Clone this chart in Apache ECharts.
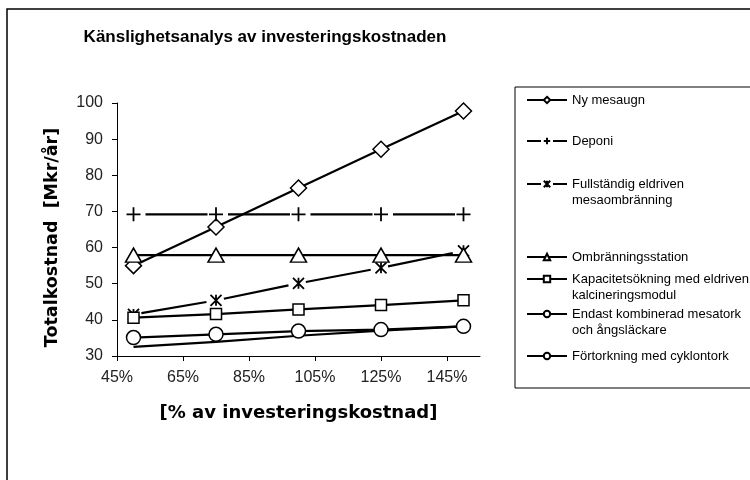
<!DOCTYPE html>
<html>
<head>
<meta charset="utf-8">
<script src="https://cdn.jsdelivr.net/npm/echarts@6/dist/echarts.min.js"></script>
<style>
  html, body { margin: 0; padding: 0; background: #fff; }
  #chart { width: 750px; height: 480px; }
</style>
</head>
<body>
<div id="chart"></div>
<script>
// x values in % of investment cost; axis starts at 45 %
const X_START = 45
const xPercents = [50, 75, 100, 125, 150]

const seriesNames = [
  'Ny mesaugn',
  'Deponi',
  'Fullständig eldriven mesaombränning',
  'Ombränningsstation',
  'Kapacitetsökning med eldriven kalcineringsmodul',
  'Endast kombinerad mesatork och ångsläckare',
  'Förtorkning med cyklontork'
]
const legendLabels = [
  'Ny mesaugn',
  'Deponi',
  'Fullständig eldriven\nmesaombränning',
  'Ombränningsstation',
  'Kapacitetsökning med eldriven\nkalcineringsmodul',
  'Endast kombinerad mesatork\noch ångsläckare',
  'Förtorkning med cyklontork'
]

// Totalkostnad [Mkr/år]
const nyMesaugn = [55.0, 65.7, 76.5, 87.2, 97.8]
const deponi = [69.2, 69.2, 69.2, 69.2, 69.2]
const fullstandig = [41.5, 45.4, 50.1, 54.4, 59.1]
const ombranning = [57.9, 57.9, 57.9, 57.9, 57.9]
const kapacitet = [40.6, 41.6, 42.9, 44.1, 45.4]
const endast = [32.5, 33.9, 35.6, 37.0, 38.2]
const fortorkning = [35.1, 36.0, 36.9, 37.3, 38.2]
const values = [nyMesaugn, deponi, fullstandig, ombranning, kapacitet, endast, fortorkning]

// marker / line look per series
const PLUS = 'path://M0,7H14M7,0V14'
const STAR = 'path://M0,0L12,12M12,0L0,12M6,0V12'
const styles = [
  { symbol: 'diamond', size: [16, 16] },
  { symbol: PLUS, size: 14, dash: [62, 20.5], dashOffset: 70.5, legendDash: [14, 12, 16] },
  { symbol: STAR, size: 11, dash: [66, 17.7], dashOffset: 75.7, legendDash: [14, 12, 16] },
  { symbol: 'triangle', size: [16, 14] },
  { symbol: 'rect', size: 11 },
  { symbol: 'none', size: 0 },
  { symbol: 'circle', size: 14 }
]
// vertical centre of each legend entry (first text line)
const legendY = [100, 141, 184, 257, 279, 314, 356]

const FONT = 'Liberation Sans, Arial, sans-serif'

const chart = echarts.init(document.getElementById('chart'), null, { renderer: 'canvas' })

const series = seriesNames.map((name, i) => {
  const st = styles[i]
  return {
    name: name,
    type: 'line',
    data: xPercents.map((x, j) => [x - X_START, values[i][j]]),
    symbol: st.symbol,
    symbolSize: st.size,
    showAllSymbol: true,
    lineStyle: {
      color: '#000',
      width: 2.2,
      type: st.dash || 'solid',
      dashOffset: st.dashOffset || 0
    },
    itemStyle: {
      color: st.symbol.startsWith('path') ? '#000' : '#fff',
      borderColor: '#000',
      borderWidth: st.symbol.startsWith('path') ? 1.8 : 1.5
    },
    emphasis: { disabled: true },
    z: 2
  }
})

const legends = seriesNames.map((name, i) => {
  const twoLine = legendLabels[i].indexOf('\n') >= 0
  const st = styles[i]
  const item = { name: name }
  if (st.legendDash) item.lineStyle = { type: st.legendDash, dashOffset: 0 }
  return {
    data: [item],
    left: 526,
    top: legendY[i] - (twoLine ? 24 : 8),
    padding: 0,
    itemWidth: 40,
    itemHeight: 8,
    selectedMode: false,
    formatter: () => (twoLine ? '\n' : '') + legendLabels[i],
    textStyle: { fontFamily: FONT, fontSize: 13, color: '#000', lineHeight: 16 }
  }
})

const option = {
  animation: false,
  backgroundColor: '#fff',
  title: {
    text: 'Känslighetsanalys av investeringskostnaden',
    left: 265,
    top: 29,
    padding: 0,
    textAlign: 'center',
    textStyle: { fontFamily: FONT, fontSize: 17, fontWeight: 'bold', color: '#000' }
  },
  legend: legends,
  grid: { left: 117, top: 103, width: 363, height: 253 },
  xAxis: {
    type: 'value',
    min: 0,
    max: 110,
    interval: 20,
    name: '[% av investeringskostnad]',
    nameLocation: 'middle',
    nameGap: 48,
    nameTextStyle: { fontFamily: 'DejaVu Sans, sans-serif', fontSize: 18, fontWeight: 'bold', color: '#000' },
    axisLine: { lineStyle: { color: '#000', width: 1 } },
    axisTick: { show: true, length: 5, lineStyle: { color: '#000' } },
    axisLabel: {
      showMaxLabel: false,
      margin: 14,
      fontFamily: FONT,
      fontSize: 16,
      color: '#222',
      formatter: v => (v + X_START) + '%'
    },
    splitLine: { show: false }
  },
  yAxis: {
    type: 'value',
    min: 30,
    max: 100,
    interval: 10,
    name: 'Totalkostnad  [Mkr/år]',
    nameLocation: 'middle',
    nameGap: 56,
    nameTextStyle: {
      fontFamily: 'DejaVu Sans, sans-serif',
      fontSize: 17.5,
      fontWeight: 'bold',
      color: '#000',
      padding: [0, 16, 0, 0]
    },
    axisLine: { show: true, lineStyle: { color: '#000', width: 1 } },
    axisTick: { show: true, length: 5, lineStyle: { color: '#000' } },
    axisLabel: { margin: 14, fontFamily: FONT, fontSize: 16, color: '#222' },
    splitLine: { show: false }
  },
  graphic: [
    {
      type: 'rect',
      shape: { x: 7, y: 9, width: 800, height: 500 },
      style: { fill: 'none', stroke: '#000', lineWidth: 1.5 },
      silent: true
    },
    {
      type: 'rect',
      shape: { x: 515, y: 87, width: 300, height: 301 },
      style: { fill: 'none', stroke: '#000', lineWidth: 1 },
      silent: true
    }
  ],
  series: series
}

chart.setOption(option)
window.addEventListener('resize', chart.resize)
</script>
</body>
</html>
